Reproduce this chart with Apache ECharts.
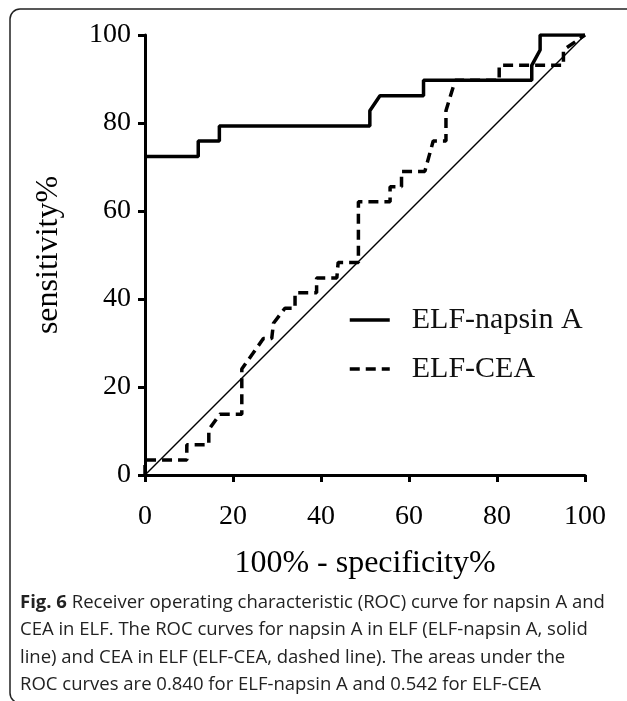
<!DOCTYPE html>
<html>
<head>
<meta charset="utf-8">
<script src="https://cdn.jsdelivr.net/npm/echarts@6/dist/echarts.min.js"></script>
<style>
  html, body { margin: 0; padding: 0; background: #fff; }
  #chart { width: 627px; height: 701px; }
</style>
</head>
<body>
<div id="chart"></div>
<script>
// ROC points (x = 100% - specificity%, y = sensitivity%)
var napsinX = [0, 12.1, 12.1, 16.9, 16.9, 51.1, 51.1, 53.4, 63.3, 63.3, 87.9, 87.9, 89.8, 89.8, 100];
var napsinY = [72.4, 72.4, 75.9, 75.9, 79.3, 79.3, 82.8, 86.2, 86.2, 89.7, 89.7, 93.1, 96.6, 100, 100];

var ceaX = [0, 0, 9.5, 9.5, 14.5, 14.5, 17.0, 22.0, 22.0, 24.5, 26.9, 28.8, 29.2, 31.8, 34.1, 34.1, 39.0, 39.0, 43.6, 43.9, 48.5, 48.5, 55.7, 55.7, 58.3, 58.3, 63.6, 65.5, 68.4, 68.4, 70.5, 80.5, 80.5, 95.1, 95.1, 100];
var ceaY = [0, 3.4, 3.4, 6.9, 6.9, 10.3, 13.8, 13.8, 24.1, 27.6, 31.0, 31.0, 34.5, 37.9, 37.9, 41.4, 41.4, 44.8, 44.8, 48.3, 48.3, 62.1, 62.1, 65.5, 65.5, 69.0, 69.0, 75.9, 75.9, 82.8, 89.7, 89.7, 93.1, 93.1, 96.6, 100];

var refX = [0, 100];
var refY = [0, 100];

var tickValues = [0, 20, 40, 60, 80, 100];

var captionLines = [
  '{b|Fig. 6} Receiver operating characteristic (ROC) curve for napsin A and',
  'CEA in ELF. The ROC curves for napsin A in ELF (ELF-napsin A, solid',
  'line) and CEA in ELF (ELF-CEA, dashed line). The areas under the',
  'ROC curves are 0.840 for ELF-napsin A and 0.542 for ELF-CEA'
];

function pairs(xs, ys) {
  var out = [];
  for (var i = 0; i < xs.length; i++) out.push([xs[i], ys[i]]);
  return out;
}

var serif = '"Liberation Serif", "DejaVu Serif", serif';
var myChart = echarts.init(document.getElementById('chart'), null, {renderer: 'canvas'});

var axisCommon = {
  type: 'value',
  min: 0,
  max: 100,
  interval: 20,
  splitLine: {show: false},
  axisLine: {show: true, lineStyle: {color: '#000', width: 3}},
  axisTick: {show: true, length: 7, lineStyle: {color: '#000', width: 3}},
  axisLabel: {
    color: '#000',
    fontFamily: serif,
    fontSize: 28,
    formatter: function (v) { return tickValues.indexOf(v) >= 0 ? String(v) : ''; }
  },
  nameLocation: 'middle',
  nameTextStyle: {color: '#000', fontFamily: serif, fontSize: 32}
};

var graphics = [
  {
    type: 'rect',
    shape: {x: 10, y: 9, width: 640, height: 694, r: 10},
    style: {fill: 'none', stroke: '#222', lineWidth: 1.5},
    silent: true
  }
];
captionLines.forEach(function (line, i) {
  graphics.push({
    type: 'text',
    left: 20,
    top: 593 + i * 27.5,
    style: {
      text: line,
      fill: '#222',
      font: '18.5px "Open Sans", sans-serif',
      rich: {b: {fontWeight: 'bold', fontSize: 18.5, fontFamily: '"Open Sans", sans-serif', fill: '#222'}}
    }
  });
});

var option = {
  animation: false,
  backgroundColor: '#fff',
  grid: {left: 145, top: 35, width: 440, height: 440, containLabel: false},
  legend: {
    orient: 'vertical',
    left: 343,
    top: 300,
    itemWidth: 40,
    itemHeight: 14,
    itemGap: 19,
    itemStyle: {opacity: 0},
    lineStyle: {width: 3.5},
    textStyle: {color: '#111', fontFamily: serif, fontSize: 30, padding: [0, 0, 0, 17]},
    data: ['ELF-napsin A', 'ELF-CEA']
  },
  xAxis: Object.assign({}, axisCommon, {
    name: '100% - specificity%',
    nameGap: 73,
    axisLabel: Object.assign({}, axisCommon.axisLabel, {margin: 28})
  }),
  yAxis: Object.assign({}, axisCommon, {
    name: 'sensitivity%',
    nameGap: 80,
    axisLabel: Object.assign({}, axisCommon.axisLabel, {margin: 14})
  }),
  series: [
    {
      name: 'reference',
      type: 'line',
      data: pairs(refX, refY),
      symbol: 'none',
      lineStyle: {color: '#000', width: 1.5},
      z: 1
    },
    {
      name: 'ELF-CEA',
      type: 'line',
      data: pairs(ceaX, ceaY),
      symbol: 'none',
      itemStyle: {color: '#000'},
      lineStyle: {color: '#000', width: 3.5, type: [10, 6]},
      z: 2
    },
    {
      name: 'ELF-napsin A',
      type: 'line',
      data: pairs(napsinX, napsinY),
      symbol: 'none',
      itemStyle: {color: '#000'},
      lineStyle: {color: '#000', width: 3.5},
      z: 3
    }
  ],
  graphic: graphics
};

myChart.setOption(option);
window.onresize = function () { myChart.resize(); };
</script>
</body>
</html>
